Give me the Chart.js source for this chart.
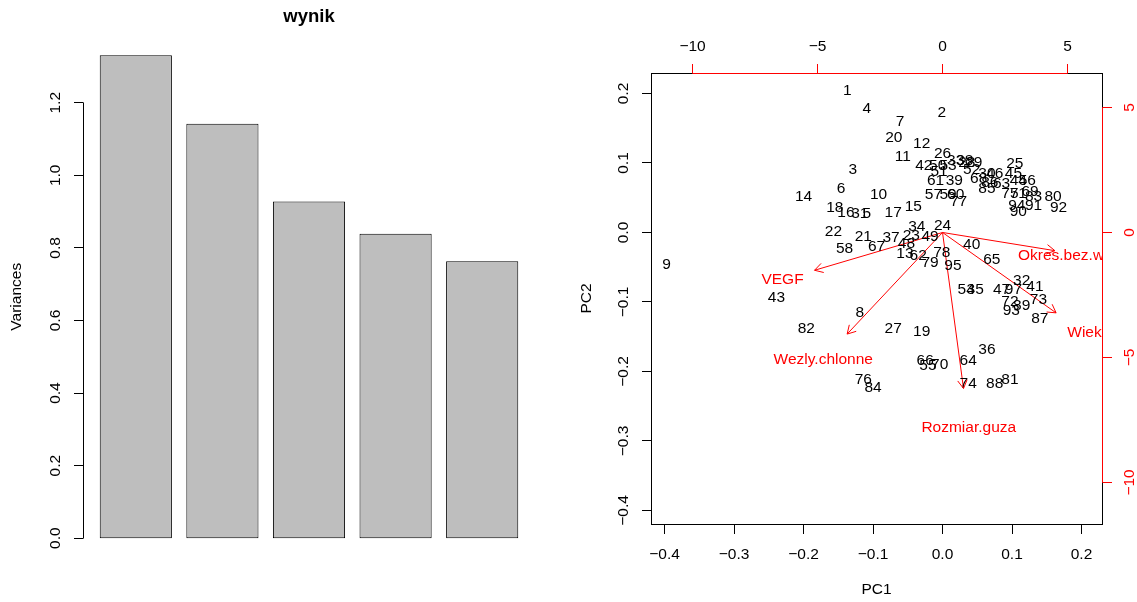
<!DOCTYPE html>
<html><head><meta charset="utf-8">
<script src="https://cdn.jsdelivr.net/npm/chart.js@4/dist/chart.umd.min.js"></script>
<style>
html,body{margin:0;padding:0;background:#fff;overflow:hidden}
#wrap{position:relative;width:1137px;height:602px;background:#fff}
.pane{position:absolute;top:0;height:602px}
</style></head><body>
<div id="wrap">
<div class="pane" style="left:0;width:568px"><canvas id="c1" width="568" height="602"></canvas></div>
<div class="pane" style="left:568px;width:569px"><canvas id="c2" width="569" height="602"></canvas></div>
</div>
<script>
// ---------- data: scree plot ----------
const components = ["Comp.1","Comp.2","Comp.3","Comp.4","Comp.5"];
const variances = [1.331, 1.142, 0.928, 0.839, 0.763];
const barMids = [0.7, 1.9, 3.1, 4.3, 5.5];
const varTicks = [0, 0.2, 0.4, 0.6, 0.8, 1.0, 1.2];
const varTickLabels = ["0.0","0.2","0.4","0.6","0.8","1.0","1.2"];
const screeTitle = "wynik";
const screeYLabel = "Variances";

// ---------- data: biplot ----------
const obsLabels = ["1","2","3","4","5","6","7","8","9","10","11","12","13","14","15","16","17","18","19","20",
"21","22","23","24","25","26","27","28","29","30","31","32","33","34","35","36","37","38","39","40",
"41","42","43","44","45","46","47","48","49","50","51","52","53","54","55","56","57","58","59","60",
"61","62","63","64","65","66","67","68","69","70","71","72","73","74","75","76","77","78","79","80",
"81","82","83","84","85","86","87","88","89","90","91","92","93","94","95","97"];
const pc1 = [-0.137,-0.001,-0.129,-0.109,-0.109,-0.146,-0.061,-0.119,-0.397,-0.092,
-0.057,-0.030,-0.054,-0.200,-0.042,-0.139,-0.071,-0.155,-0.030,-0.070,
-0.114,-0.157,-0.045,0.000,0.104,0.000,-0.071,0.035,0.045,0.064,
-0.119,0.114,0.019,-0.037,0.047,0.064,-0.074,0.032,0.017,0.042,
0.133,-0.027,-0.239,0.109,0.102,0.075,0.085,-0.052,-0.018,-0.007,
-0.005,0.042,0.008,0.034,-0.021,0.122,-0.013,-0.141,0.008,0.019,
-0.010,-0.035,0.085,0.037,0.071,-0.025,-0.095,0.052,0.126,-0.004,
0.109,0.097,0.138,0.037,0.097,-0.114,0.023,-0.001,-0.018,0.159,
0.097,-0.196,0.131,-0.100,0.064,0.068,0.140,0.075,0.114,0.109,
0.131,0.167,0.099,0.107,0.015,0.102];
const pc2 = [0.204,0.172,0.091,0.178,0.027,0.063,0.159,-0.116,-0.047,0.054,
0.109,0.128,-0.030,0.052,0.037,0.028,0.029,0.036,-0.143,0.136,
-0.006,0.001,-0.004,0.010,0.099,0.114,-0.138,0.100,0.100,0.085,
0.027,-0.069,0.103,0.009,-0.082,-0.168,-0.007,0.103,0.075,-0.017,
-0.078,0.096,-0.094,0.075,0.085,0.085,-0.082,-0.016,-0.006,0.096,
0.087,0.091,0.096,-0.083,-0.192,0.075,0.055,-0.023,0.055,0.054,
0.074,-0.033,0.070,-0.184,-0.039,-0.184,-0.020,0.077,0.059,-0.191,
0.056,-0.100,-0.097,-0.217,0.056,-0.212,0.044,-0.029,-0.044,0.051,
-0.212,-0.138,0.051,-0.224,0.063,0.071,-0.124,-0.217,-0.105,0.030,
0.039,0.036,-0.112,0.038,-0.048,-0.082];
const varNames = ["VEGF","Wezly.chlonne","Rozmiar.guza","Okres.bez.wznowy","Wiek"];
const load1 = [-6.40, -4.77, 1.05, 5.62, 5.68];
const load2 = [-1.89, -5.08, -7.80, -0.91, -4.02];
const pcTicks = [-0.4,-0.3,-0.2,-0.1,0.0,0.1,0.2];
const pcTickLabels = ["\u22120.4","\u22120.3","\u22120.2","\u22120.1","0.0","0.1","0.2"];
const loadTicks = [-10,-5,0,5];
const loadTickLabels = ["\u221210","\u22125","0","5"];
const xTitle = "PC1", yTitle = "PC2";

// ---------- helpers ----------
const FONT = '"Liberation Sans", Arial, Helvetica, sans-serif';
const FS = 15.5;
const TICK = 9.5;
function cr(v){ return Math.round(v - 0.5) + 0.5; }
function rotText(ctx, t, x, y){ ctx.save(); ctx.translate(x, y); ctx.rotate(-Math.PI/2); ctx.fillText(t, 0, 0); ctx.restore(); }
function line(ctx, x1, y1, x2, y2){ ctx.beginPath(); ctx.moveTo(x1, y1); ctx.lineTo(x2, y2); ctx.stroke(); }

// R-style axis: side 1 bottom, 2 left, 3 top, 4 right
function rAxis(ctx, area, scale, side, ticks, labels, lineCol, textCol){
  ctx.save();
  ctx.strokeStyle = lineCol; ctx.lineWidth = 1;
  ctx.fillStyle = textCol; ctx.font = FS + 'px ' + FONT;
  ctx.textAlign = 'center'; ctx.textBaseline = 'middle';
  const p = ticks.map(v => scale.getPixelForValue(v));
  if (side === 1 || side === 3){
    const y = side === 1 ? cr(area.bottom) : cr(area.top);
    const d = side === 1 ? TICK : -TICK;
    line(ctx, p[0], y, p[p.length-1], y);
    p.forEach((x, i) => {
      line(ctx, cr(x), y, cr(x), y + d);
      ctx.fillText(labels[i], x, side === 1 ? area.bottom + 31 : area.top - 26.6);
    });
  } else {
    const x = side === 2 ? cr(area.left) : cr(area.right);
    const d = side === 2 ? -TICK : TICK;
    line(ctx, x, p[0], x, p[p.length-1]);
    p.forEach((y, i) => {
      line(ctx, x, cr(y), x + d, cr(y));
      rotText(ctx, labels[i], side === 2 ? area.left - 27.3 : area.right + 27.3, y);
    });
  }
  ctx.restore();
}

// ---------- scree plot ----------
const screePlugin = {
  id: 'screeDeco',
  afterDraw(chart){
    const ctx = chart.ctx, a = chart.chartArea;
    rAxis(ctx, a, chart.scales.y, 2, varTicks, varTickLabels, '#000', '#000');
    ctx.save();
    ctx.fillStyle = '#000'; ctx.textAlign = 'center'; ctx.textBaseline = 'middle';
    ctx.font = 'bold 18.5px ' + FONT;
    ctx.fillText(screeTitle, (a.left + a.right) / 2, 17.3);
    ctx.font = FS + 'px ' + FONT;
    rotText(ctx, screeYLabel, 17.2, (a.top + a.bottom) / 2);
    ctx.restore();
  }
};

new Chart(document.getElementById('c1'), {
  type: 'bar',
  data: {
    labels: components,
    datasets: [{
      data: barMids.map((x, i) => ({ x: x, y: variances[i] })),
      backgroundColor: '#BEBEBE', borderColor: '#000', borderWidth: 1,
      borderSkipped: false, barPercentage: 1 / 1.2, categoryPercentage: 1
    }]
  },
  options: {
    responsive: false, animation: false, events: [],
    layout: { padding: { left: 83, right: 33, top: 36, bottom: 44.5 } },
    plugins: { legend: { display: false }, tooltip: { enabled: false } },
    scales: {
      x: { type: 'linear', min: -0.032, max: 6.232, offset: false, display: false, ticks: { stepSize: 1.2 } },
      y: { type: 'linear', min: -0.0532, max: 1.384, display: false }
    }
  },
  plugins: [screePlugin]
});

// ---------- biplot ----------
const LIM = [-0.4195, 0.2295];
const RATIO = 27.8;
const ARROW_LEN = 9.5;

const biplotPlugin = {
  id: 'biplotDeco',
  afterDatasetsDraw(chart){
    const ctx = chart.ctx, a = chart.chartArea;
    const sx2 = chart.scales.x2, sy2 = chart.scales.y2;
    ctx.save();
    ctx.beginPath(); ctx.rect(a.left, a.top, a.right - a.left, a.bottom - a.top); ctx.clip();
    ctx.font = FS + 'px ' + FONT; ctx.textAlign = 'center'; ctx.textBaseline = 'middle';
    ctx.fillStyle = '#000';
    chart.getDatasetMeta(0).data.forEach((el, i) => ctx.fillText(obsLabels[i], el.x, el.y));
    ctx.strokeStyle = '#FF0000'; ctx.lineWidth = 1;
    for (let k = 1; k <= varNames.length; k++){
      const m = chart.getDatasetMeta(k).data;
      const o = m[0], e = m[1];
      const ang = Math.atan2(e.y - o.y, e.x - o.x);
      [Math.PI/6, -Math.PI/6].forEach(d => {
        line(ctx, e.x, e.y, e.x - ARROW_LEN * Math.cos(ang + d), e.y - ARROW_LEN * Math.sin(ang + d));
      });
    }
    ctx.fillStyle = '#FF0000';
    varNames.forEach((n, i) => ctx.fillText(n, sx2.getPixelForValue(load1[i]), sy2.getPixelForValue(load2[i])));
    ctx.restore();
  },
  afterDraw(chart){
    const ctx = chart.ctx, a = chart.chartArea;
    ctx.save();
    ctx.strokeStyle = '#000'; ctx.lineWidth = 1;
    ctx.strokeRect(cr(a.left), cr(a.top), cr(a.right) - cr(a.left), cr(a.bottom) - cr(a.top));
    ctx.restore();
    rAxis(ctx, a, chart.scales.x, 1, pcTicks, pcTickLabels, '#000', '#000');
    rAxis(ctx, a, chart.scales.y, 2, pcTicks, pcTickLabels, '#000', '#000');
    rAxis(ctx, a, chart.scales.x2, 3, loadTicks, loadTickLabels, '#FF0000', '#000');
    rAxis(ctx, a, chart.scales.y2, 4, loadTicks, loadTickLabels, '#FF0000', '#FF0000');
    ctx.save();
    ctx.fillStyle = '#000'; ctx.font = FS + 'px ' + FONT;
    ctx.textAlign = 'center'; ctx.textBaseline = 'middle';
    ctx.fillText(xTitle, (a.left + a.right) / 2, 590);
    rotText(ctx, yTitle, 19, (a.top + a.bottom) / 2);
    ctx.restore();
  }
};

const arrowSets = varNames.map((n, i) => ({
  label: n,
  data: [{ x: 0, y: 0 }, { x: 0.8 * load1[i], y: 0.8 * load2[i] }],
  showLine: true, borderColor: '#FF0000', borderWidth: 1,
  pointRadius: 0, xAxisID: 'x2', yAxisID: 'y2'
}));

new Chart(document.getElementById('c2'), {
  type: 'scatter',
  data: {
    datasets: [{
      label: 'obs',
      data: pc1.map((x, i) => ({ x: x, y: pc2[i] })),
      pointRadius: 0, xAxisID: 'x', yAxisID: 'y'
    }].concat(arrowSets)
  },
  options: {
    responsive: false, animation: false, events: [],
    layout: { padding: { left: 83, right: 35, top: 73, bottom: 78 } },
    plugins: { legend: { display: false }, tooltip: { enabled: false } },
    scales: {
      x: { type: 'linear', min: LIM[0], max: LIM[1], display: false },
      y: { type: 'linear', min: LIM[0], max: LIM[1], display: false },
      x2: { type: 'linear', position: 'top', min: LIM[0] * RATIO, max: LIM[1] * RATIO, display: false },
      y2: { type: 'linear', position: 'right', min: LIM[0] * RATIO, max: LIM[1] * RATIO, display: false }
    }
  },
  plugins: [biplotPlugin]
});
</script>
</body></html>
